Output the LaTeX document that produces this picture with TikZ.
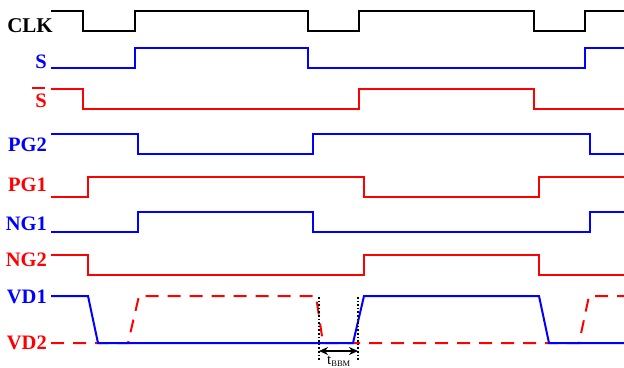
\documentclass[tikz,border=0pt]{standalone}
\usepackage{fontspec}
\setmainfont{Liberation Serif}
\usetikzlibrary{arrows.meta}
\definecolor{sigblue}{RGB}{0,0,255}
\definecolor{sigred}{RGB}{255,0,0}
\tikzset{
  sig/.style={line width=2pt, line join=miter},
  lbl/.style={anchor=east, font=\bfseries\fontsize{20.5}{20.5}\selectfont, inner sep=0pt},
  dsh/.style={sig, dash pattern=on 13pt off 9pt},
  guide/.style={line width=1.6pt, dotted, black},
}
\begin{document}
\begin{tikzpicture}[x=1pt,y=-1pt]
\useasboundingbox (0,0) rectangle (624,367);
% labels
\node[lbl, black, font=\bfseries\fontsize{21}{21}\selectfont] (lclk) at (53,25.5) {CLK};
\node[lbl, sigblue] (ls)   at (47,61.5) {S};
\node[lbl, sigred]  (lsb)  at (47,101) {S};
\draw[sigred, line width=2pt] (32,88) -- (45,88);
\node[lbl, sigblue] (lpg2) at (47,145) {PG2};
\node[lbl, sigred]  (lpg1) at (47,185) {PG1};
\node[lbl, sigblue] (lng1) at (47,223.5) {NG1};
\node[lbl, sigred]  (lng2) at (47,260) {NG2};
\node[lbl, sigblue] (lvd1) at (47,296.5) {VD1};
\node[lbl, sigred]  (lvd2) at (47,343) {VD2};
% CLK
\draw[sig, black] (51,11) -- (83,11) -- (83,31) -- (135,31) -- (135,11) -- (308,11) -- (308,31) -- (359,31) -- (359,11) -- (534,11) -- (534,31) -- (585,31) -- (585,11) -- (624,11);
% S
\draw[sig, sigblue] (51,68) -- (135,68) -- (135,48) -- (308,48) -- (308,68) -- (585,68) -- (585,48) -- (624,48);
% S bar
\draw[sig, sigred] (51,89) -- (83,89) -- (83,109) -- (359,109) -- (359,89) -- (534,89) -- (534,109) -- (624,109);
% PG2
\draw[sig, sigblue] (51,134) -- (138,134) -- (138,154) -- (313,154) -- (313,134) -- (590,134) -- (590,154) -- (624,154);
% PG1
\draw[sig, sigred] (51,197) -- (88,197) -- (88,177) -- (364,177) -- (364,197) -- (539,197) -- (539,177) -- (624,177);
% NG1
\draw[sig, sigblue] (51,232) -- (138,232) -- (138,212) -- (313,212) -- (313,232) -- (590,232) -- (590,212) -- (624,212);
% NG2
\draw[sig, sigred] (51,255) -- (88,255) -- (88,275) -- (364,275) -- (364,255) -- (539,255) -- (539,275) -- (624,275);
% VD2 dashed
\draw[dsh, sigred] (51,343) -- (128,343) -- (139,296) -- (316,296) -- (323,343) -- (579,343) -- (589,296) -- (624,296);
% VD1
\draw[sig, sigblue] (51,296) -- (88,296) -- (98,343) -- (353,343) -- (364,296) -- (539,296) -- (549,343) -- (624,343);
% dead time markers
\coordinate (g1t) at (319,297);
\coordinate (g1b) at (319,360);
\coordinate (g2t) at (358,297);
\coordinate (g2b) at (358,360);
\draw[guide] (g1t) -- (g1b);
\draw[guide] (g2t) -- (g2b);
\coordinate (a1) at (319,351);
\coordinate (a2) at (358,351);
\draw[line width=1.6pt, {Stealth[length=9pt,width=8pt]}-{Stealth[length=9pt,width=8pt]}] (a1) -- (a2);
\node[anchor=south, inner sep=0pt, font=\fontsize{15}{15}\selectfont] (tbbm) at (339,366.5) {t\textsubscript{\fontsize{8.5}{8.5}\selectfont BBM}};
\end{tikzpicture}
\end{document}
